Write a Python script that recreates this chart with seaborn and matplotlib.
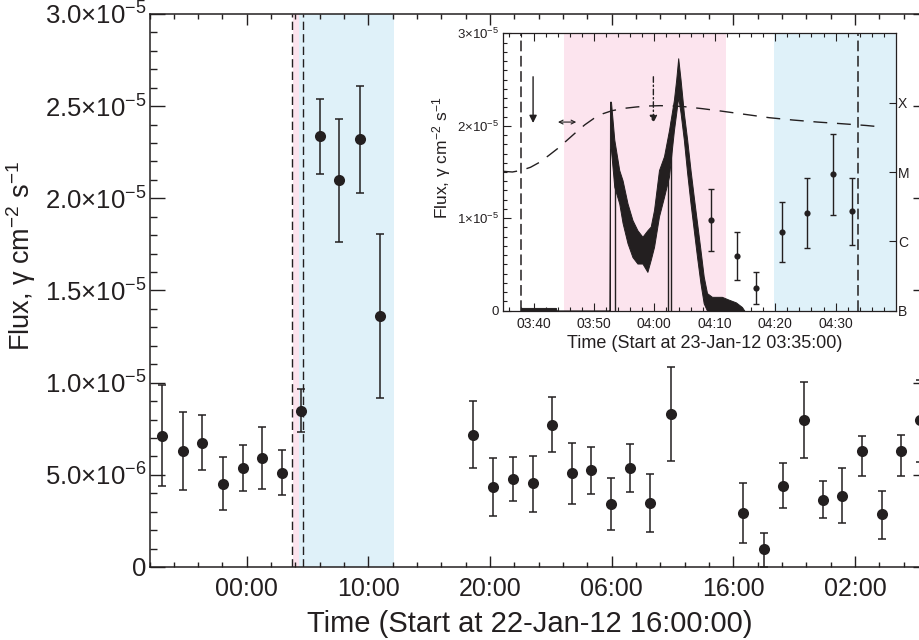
import numpy as np
import pandas as pd
import matplotlib
matplotlib.use("Agg")
import matplotlib.pyplot as plt
import seaborn as sns
from matplotlib.ticker import FixedLocator, MultipleLocator, NullLocator

# ---------------- main panel data (hours since 22-Jan-12 16:00:00; flux in 1e-6 ph cm^-2 s^-1)
main_time_h = [1.05, 2.73, 4.34, 6.04, 7.66, 9.28, 10.87, 12.43, 14.05, 15.61, 17.29, 18.96,
               26.58, 28.27, 29.89, 31.54, 33.10, 34.72, 36.28, 37.93, 39.51, 41.16, 42.89,
               48.83, 50.51, 52.12, 53.77, 55.36, 56.97, 58.57, 60.18, 61.78, 63.31]
main_flux = [7.12, 6.29, 6.75, 4.52, 5.37, 5.93, 5.12, 8.48, 23.39, 20.98, 23.24, 13.64,
             7.16, 4.36, 4.79, 4.54, 7.72, 5.08, 5.26, 3.42, 5.35, 3.45, 8.30,
             2.93, 0.96, 4.41, 7.98, 3.65, 3.87, 6.29, 2.86, 6.29, 7.98]
main_hi = [9.87, 8.43, 8.27, 5.97, 6.60, 7.61, 6.37, 9.64, 25.41, 24.33, 26.10, 18.05,
           8.99, 5.91, 5.97, 6.04, 9.21, 6.75, 6.53, 4.81, 6.66, 5.06, 10.83,
           4.54, 1.86, 5.63, 10.06, 4.65, 5.35, 7.12, 4.14, 7.16, 10.15]
main_lo = [4.39, 4.16, 5.25, 3.09, 4.14, 4.25, 3.89, 7.33, 21.32, 17.65, 20.31, 9.15,
           5.35, 2.78, 3.60, 3.00, 6.22, 3.40, 3.98, 1.99, 4.05, 1.88, 5.75,
           1.32, 0.02, 3.22, 5.91, 2.66, 2.40, 4.94, 1.52, 4.92, 5.71]

main_xtick_pos = [8, 18, 28, 38, 48, 58]
main_xtick_labels = ["00:00", "10:00", "20:00", "06:00", "16:00", "02:00"]
main_ytick_pos = [0, 5e-6, 1e-5, 1.5e-5, 2e-5, 2.5e-5, 3e-5]
main_ytick_labels = ["0",
                     "5.0×10$^{-6}$",
                     "1.0×10$^{-5}$",
                     "1.5×10$^{-5}$",
                     "2.0×10$^{-5}$",
                     "2.5×10$^{-5}$",
                     "3.0×10$^{-5}$"]
main_pink_span = [11.78, 12.32]
main_blue_span = [12.32, 20.08]
main_dashed_times = [11.69, 12.60]

# ---------------- inset data (minutes since 23-Jan-12 03:35:00; flux in 1e-5 ph cm^-2 s^-1)
inset_time_min = [34.43, 38.65, 41.83, 46.05, 50.28, 54.56, 57.73]
inset_flux = [0.981, 0.592, 0.249, 0.851, 1.060, 1.478, 1.075]
inset_hi = [1.313, 0.851, 0.422, 1.179, 1.435, 1.914, 1.435]
inset_lo = [0.646, 0.332, 0.072, 0.523, 0.681, 1.038, 0.714]

# high-time-resolution light curve drawn as its visible envelope
trace_t = [3.0, 8.7, 8.8, 17.60, 17.66, 17.82, 18.37, 19.19, 19.74, 20.56, 21.38, 22.20,
           23.03, 23.85, 24.40, 24.95, 25.77, 26.60, 27.42, 28.24, 28.62, 28.95, 29.34,
           29.88, 30.43, 30.99, 31.53, 32.07, 32.63, 33.17, 33.72, 34.54, 36.18, 37.29,
           38.50, 39.50, 39.90]
trace_hi = [0.03, 0.03, 0.0, 0.0, 2.26, 2.26, 1.85, 1.52, 1.41, 1.16, 0.98, 0.87,
            0.80, 0.87, 0.91, 1.09, 1.52, 1.67, 1.95, 2.28, 2.50, 2.73, 2.50,
            2.14, 1.85, 1.52, 1.23, 0.95, 0.66, 0.37, 0.19, 0.15, 0.15, 0.12,
            0.09, 0.04, 0.0]
trace_lo = [0.0, 0.0, 0.0, 0.0, 1.74, 1.74, 1.34, 1.16, 0.95, 0.73, 0.58, 0.51,
            0.51, 0.42, 0.55, 0.69, 1.02, 1.23, 1.45, 1.95, 2.14, 2.31, 2.14,
            1.85, 1.49, 1.16, 0.87, 0.58, 0.30, 0.08, 0.0, 0.0, 0.0, 0.0,
            0.0, 0.0, 0.0]
gap_t = [18.54, 27.30, 27.80]
gap_top = [1.55, 1.85, 2.05]

# GOES 1-8 A flux (W m^-2) on the right log axis
goes_t = [0, 1.5, 3, 4.5, 6, 7.5, 9, 10.5, 12, 13.5, 15, 16.5, 18, 20, 22, 24, 26, 28,
          30, 33, 36, 40, 44, 48, 52, 56, 60, 63]
goes_flux = [1.023e-5, 1.0e-5, 1.057e-5, 1.169e-5, 1.38e-5, 1.725e-5, 2.18e-5, 2.845e-5,
             3.715e-5, 4.80e-5, 5.93e-5, 6.93e-5, 7.66e-5, 8.28e-5, 8.66e-5, 8.95e-5,
             9.05e-5, 8.95e-5, 8.75e-5, 8.18e-5, 7.57e-5, 6.78e-5, 6.07e-5, 5.61e-5,
             5.25e-5, 4.97e-5, 4.69e-5, 4.43e-5]
goes_tick_pos = [1e-7, 1e-6, 1e-5, 1e-4]
goes_tick_labels = ["B", "C", "M", "X"]

inset_xtick_pos = [5, 15, 25, 35, 45, 55]
inset_xtick_labels = ["03:40", "03:50", "04:00", "04:10", "04:20", "04:30"]
inset_ytick_pos = [0, 1e-5, 2e-5, 3e-5]
inset_ytick_labels = ["0", "1×10$^{-5}$", "2×10$^{-5}$", "3×10$^{-5}$"]
inset_pink_span = [10.0, 36.9]
inset_blue_span = [44.85, 65.0]
inset_dashed_times = [3.0, 58.67]
arrow_solid_t = [4.93]
arrow_dashdot_t = [24.84]
arrow_tail_tip = [2.53, 2.03]
double_arrow_t = [9.05, 12.07]
double_arrow_y = [2.04]

# ---------------- style
sns.set_style("ticks")
plt.rcParams["font.family"] = ["Liberation Sans", "DejaVu Sans"]
plt.rcParams["mathtext.fontset"] = "custom"
plt.rcParams["mathtext.rm"] = "Liberation Sans"
plt.rcParams["mathtext.it"] = "Liberation Sans:italic"
plt.rcParams["mathtext.bf"] = "Liberation Sans:bold"
plt.rcParams["mathtext.default"] = "regular"

INK = "#231f20"
PINK = "#fce4ee"
BLUE = "#dff1f9"

fig = plt.figure(figsize=(9.2, 6.4), dpi=100)
fig.patch.set_facecolor("white")

# ---------------- main axes
ax = fig.add_axes([149.5 / 920, 1 - 567 / 640, (928 - 149.5) / 920, 553 / 640])
ax.axvspan(*main_pink_span, color=PINK, lw=0, zorder=0)
ax.axvspan(*main_blue_span, color=BLUE, lw=0, zorder=0)
for t in main_dashed_times:
    ax.axvline(t, color=INK, lw=1.0, dashes=(6, 3), zorder=1)

mdf = pd.DataFrame({"t": main_time_h,
                    "f": np.array(main_flux) * 1e-6,
                    "lo": np.array(main_lo) * 1e-6,
                    "hi": np.array(main_hi) * 1e-6})
ax.errorbar(mdf["t"], mdf["f"], yerr=[mdf["f"] - mdf["lo"], mdf["hi"] - mdf["f"]],
            fmt="none", ecolor=INK, elinewidth=1.1, capsize=3, capthick=1.1, zorder=2)
sns.scatterplot(data=mdf, x="t", y="f", ax=ax, s=64, color=INK, edgecolor=INK,
                linewidth=0, zorder=3, legend=False)

ax.set_xlim(0, 64)
ax.set_ylim(0, 3e-5)
ax.xaxis.set_major_locator(FixedLocator(main_xtick_pos))
ax.set_xticklabels(main_xtick_labels)
ax.xaxis.set_minor_locator(MultipleLocator(2))
ax.yaxis.set_major_locator(FixedLocator(main_ytick_pos))
ax.set_yticklabels(main_ytick_labels)
ax.yaxis.set_minor_locator(MultipleLocator(1e-6))
ax.tick_params(axis="x", which="both", direction="in", top=True, bottom=True,
               color=INK, width=1.0, labelsize=18, labelcolor=INK, pad=7.5)
ax.tick_params(axis="x", which="major", length=7.6)
ax.tick_params(axis="x", which="minor", length=3.6)
ax.tick_params(axis="y", which="both", direction="in", left=True, right=True,
               color=INK, width=1.0, labelsize=18.5, labelcolor=INK, pad=2)
ax.tick_params(axis="y", which="major", length=11)
ax.tick_params(axis="y", which="minor", length=5)
for sp in ax.spines.values():
    sp.set_color(INK)
    sp.set_linewidth(1.1)
ax.set_xlabel("Time (Start at 22-Jan-12 16:00:00)", fontsize=21, color=INK)
ax.set_ylabel("Flux, γ cm$^{-2}$ s$^{-1}$", fontsize=19.5, color=INK)
ax.xaxis.set_label_coords(0.489, -0.078)
ax.yaxis.set_label_coords(-0.143, 0.562)

# ---------------- inset axes
axi = fig.add_axes([503.3 / 920, 1 - 310.7 / 640, 392.7 / 920, 277.4 / 640])
axi.set_zorder(5)
axi.set_facecolor("white")
axi.axvspan(*inset_pink_span, color=PINK, lw=0, zorder=0)
axi.axvspan(*inset_blue_span, color=BLUE, lw=0, zorder=0)
for t in inset_dashed_times:
    axi.axvline(t, color=INK, lw=1.1, dashes=(7, 3), zorder=1)

axi.fill_between(np.array(trace_t), np.array(trace_lo) * 1e-5, np.array(trace_hi) * 1e-5,
                 color=INK, edgecolor=INK, lw=0.7, zorder=2)
axi.vlines(gap_t, 0, np.array(gap_top) * 1e-5, color=INK, lw=1.0, zorder=2)

idf = pd.DataFrame({"t": inset_time_min,
                    "f": np.array(inset_flux) * 1e-5,
                    "lo": np.array(inset_lo) * 1e-5,
                    "hi": np.array(inset_hi) * 1e-5})
axi.errorbar(idf["t"], idf["f"], yerr=[idf["f"] - idf["lo"], idf["hi"] - idf["f"]],
             fmt="none", ecolor=INK, elinewidth=1.0, capsize=2.2, capthick=1.0, zorder=3)
sns.scatterplot(data=idf, x="t", y="f", ax=axi, s=20, color=INK, edgecolor=INK,
                linewidth=0, zorder=4, legend=False)

tail, tip = arrow_tail_tip[0] * 1e-5, arrow_tail_tip[1] * 1e-5
axi.annotate("", xy=(arrow_solid_t[0], tip), xytext=(arrow_solid_t[0], tail),
             arrowprops=dict(arrowstyle="-|>", color=INK, lw=1.0, mutation_scale=11,
                             shrinkA=0, shrinkB=0), zorder=5)
axi.annotate("", xy=(arrow_dashdot_t[0], tip), xytext=(arrow_dashdot_t[0], tail),
             arrowprops=dict(arrowstyle="-|>", color=INK, lw=1.0, mutation_scale=11,
                             linestyle=(0, (4, 2, 1, 2)), shrinkA=0, shrinkB=0), zorder=5)
axi.annotate("", xy=(double_arrow_t[1], double_arrow_y[0] * 1e-5),
             xytext=(double_arrow_t[0], double_arrow_y[0] * 1e-5),
             arrowprops=dict(arrowstyle="<->", color=INK, lw=0.8, mutation_scale=7,
                             shrinkA=0, shrinkB=0), zorder=5)

axi.set_xlim(0, 65)
axi.set_ylim(0, 3e-5)
axi.xaxis.set_major_locator(FixedLocator(inset_xtick_pos))
axi.set_xticklabels(inset_xtick_labels)
axi.xaxis.set_minor_locator(FixedLocator(np.arange(1, 65, 2)))
axi.yaxis.set_major_locator(FixedLocator(inset_ytick_pos))
axi.set_yticklabels(inset_ytick_labels)
axi.yaxis.set_minor_locator(MultipleLocator(1e-6))
axi.tick_params(axis="x", which="both", direction="in", top=True, bottom=True,
                color=INK, width=0.8, labelsize=10, labelcolor=INK, pad=4.5)
axi.tick_params(axis="x", which="major", length=5.5)
axi.tick_params(axis="x", which="minor", length=2.9)
axi.tick_params(axis="y", which="both", direction="in", left=True, right=False,
                color=INK, width=0.8, labelsize=9.5, labelcolor=INK, pad=3)
axi.tick_params(axis="y", which="major", length=5.8)
axi.tick_params(axis="y", which="minor", length=2.9)
for sp in axi.spines.values():
    sp.set_color(INK)
    sp.set_linewidth(0.9)
axi.set_xlabel("Time (Start at 23-Jan-12 03:35:00)", fontsize=13, color=INK)
axi.set_ylabel("Flux, γ cm$^{-2}$ s$^{-1}$", fontsize=12.5, color=INK)
axi.xaxis.set_label_coords(0.514, -0.088)
axi.yaxis.set_label_coords(-0.128, 0.55)

# GOES on a twin log axis
axg = axi.twinx()
axg.set_zorder(6)
axg.patch.set_visible(False)
gdf = pd.DataFrame({"t": goes_t, "g": goes_flux})
sns.lineplot(data=gdf, x="t", y="g", ax=axg, color=INK, lw=1.0,
             linestyle=(0, (10, 7)), legend=False)
axg.set_yscale("log")
axg.set_ylim(1e-7, 1e-3)
axg.set_xlim(0, 65)
axg.yaxis.set_major_locator(FixedLocator(goes_tick_pos))
axg.yaxis.set_minor_locator(NullLocator())
axg.set_yticklabels(goes_tick_labels)
axg.set_ylabel("")
axg.tick_params(axis="y", which="major", direction="in", right=True, length=5,
                width=0.8, color=INK, labelsize=10, labelcolor=INK, pad=1.5)
for sp in axg.spines.values():
    sp.set_visible(False)

fig.savefig("out.png", dpi=100, facecolor="white")
